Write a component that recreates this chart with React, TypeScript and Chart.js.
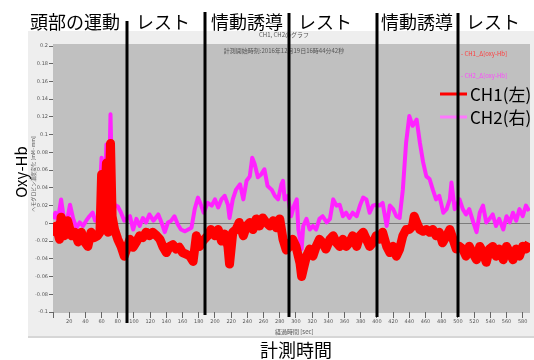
import React, { useEffect, useRef } from 'react';
import { Chart, registerables } from 'chart.js';
Chart.register(...registerables);

// ---- data (seconds / Δ[oxy-Hb]) ----
const ch1Times = [0, 4, 8, 10, 14, 18, 23, 27, 31, 35, 39, 43, 47, 51, 55, 58, 60, 62, 66, 68, 71, 73, 76, 80, 84, 88,
  95, 99, 103, 107, 111, 115, 119, 123, 128, 132, 136, 140, 144, 148, 152, 156, 160, 165, 169, 173, 177, 181, 185,
  191, 195, 200, 204, 208, 212, 216, 218, 222, 226, 230, 235, 239, 243, 247, 251, 255, 259, 263, 268, 272, 276, 280,
  284, 288, 292, 296, 300, 305, 307, 309, 313, 317, 321, 325, 329, 333, 337, 342, 346, 350, 354, 358, 362, 366, 370,
  375, 379, 383, 387, 391, 395, 399, 403, 407, 412, 416, 420, 424, 428, 432, 436, 440, 444, 446, 449, 453, 457, 461,
  465, 469, 473, 477, 481, 486, 490, 494, 498, 502, 506, 510, 514, 518, 523, 527, 531, 535, 539, 543, 547, 551, 556,
  560, 564, 568, 572, 576, 580, 584, 588];
const ch1Values = [-0.014, -0.003, -0.018, 0.007, -0.014, 0.003, -0.014, -0.010, -0.021, -0.010, -0.021, -0.026, -0.010,
  -0.016, -0.014, -0.010, 0.055, -0.007, 0.068, -0.010, 0.090, 0.008, -0.007, -0.018, -0.026, -0.037,
  -0.018, -0.027, -0.021, -0.014, -0.016, -0.010, -0.014, -0.010, -0.014, -0.018, -0.027, -0.033, -0.026, -0.024,
  -0.029, -0.027, -0.033, -0.035, -0.037, -0.043, -0.014, -0.026, -0.020,
  -0.014, -0.007, -0.014, -0.007, -0.020, -0.012, -0.026, -0.046, -0.010, -0.007, 0.001, -0.014, -0.003, 0.001,
  -0.007, 0.005, -0.003, 0.006, 0.001, -0.003, 0.003, -0.005, 0.005,
  -0.018, -0.030, -0.026, -0.018, -0.026, -0.045, -0.060, -0.052, -0.037, -0.029, -0.037, -0.026, -0.018, -0.022,
  -0.029, -0.018, -0.014, -0.022, -0.026, -0.018, -0.026, -0.022, -0.014,
  -0.026, -0.014, -0.010, -0.018, -0.026, -0.022, -0.014, -0.018, -0.010, -0.026, -0.033, -0.026, -0.037, -0.029,
  -0.014, -0.007, -0.007, -0.003, 0.008, 0.001, -0.007, -0.009, -0.007,
  -0.010, -0.007, -0.014, -0.010, -0.022, -0.014, -0.007, -0.018, -0.029, -0.026, -0.029, -0.037, -0.026, -0.033,
  -0.041, -0.026, -0.033, -0.044, -0.029, -0.026, -0.037, -0.029, -0.041,
  -0.026, -0.033, -0.041, -0.029, -0.037, -0.026, -0.029, -0.022];

const ch2Times = [0, 3, 6, 10, 13, 17, 21, 25, 29, 33, 37, 41, 45, 49, 52, 56, 60, 62, 66, 68, 71, 73, 76, 80, 84, 88,
  95, 99, 103, 107, 111, 115, 119, 124, 130, 134, 138, 142, 146, 150, 154, 158, 163, 167, 171, 175, 179, 183, 186,
  191, 196, 200, 204, 208, 212, 216, 218, 222, 226, 231, 235, 239, 243, 246, 249, 253, 257, 261, 265, 270, 274, 278,
  282, 284, 286, 290, 294, 298, 301, 303, 307, 309, 313, 317, 321, 325, 329, 333, 338, 342, 346, 350, 354, 358, 362,
  366, 370, 375, 379, 383, 387, 391, 395, 399, 403, 407, 412, 416, 420, 424, 428, 432, 436, 440, 444, 449, 453, 457,
  461, 465, 469, 473, 477, 482, 486, 490, 492, 494, 496, 502, 506, 510, 514, 519, 523, 527, 531, 535, 539, 543, 547,
  551, 556, 560, 564, 568, 572, 576, 580, 584, 588];
const ch2Values = [0.005, 0.012, 0.003, 0.027, 0.008, 0.001, 0.021, 0.005, -0.005, 0.001, -0.003, 0.003, 0.008, 0.012,
  0.003, 0.007, 0.074, 0.001, 0.089, -0.007, 0.123, 0.038, 0.021, 0.019, 0.012, 0.003,
  0.008, -0.007, 0.005, -0.003, 0.006, 0.001, 0.010, 0.003, 0.010, 0.001, -0.010, 0.001, 0.003, 0.008, -0.001,
  -0.007, -0.009, -0.007, -0.005, 0.016, 0.029, 0.020, 0.012,
  0.023, 0.020, 0.027, 0.018, 0.027, 0.031, 0.021, 0.006, 0.027, 0.038, 0.044, 0.027, 0.048, 0.053, 0.074, 0.067,
  0.052, 0.055, 0.061, 0.042, 0.038, 0.031, 0.027,
  0.044, 0.048, 0.027, 0.031, 0.008, 0.021, 0.027, -0.007, -0.029, -0.003, 0.005, -0.007, -0.003, -0.007, 0.005,
  0.008, 0.001, 0.005, 0.027, 0.020, 0.021, 0.008, 0.012,
  0.006, 0.012, 0.008, 0.020, 0.029, 0.027, 0.012, 0.020, 0.021, 0.020, 0.023, -0.003, 0.020, 0.016, 0.008, 0.006,
  0.038, 0.091, 0.121, 0.110, 0.117, 0.091, 0.069,
  0.053, 0.050, 0.038, 0.027, 0.031, 0.012, 0.016, 0.027, 0.046, 0.031, 0.016, 0.027, 0.016, 0.010, 0.016, 0.001,
  -0.010, 0.012, 0.020, 0.001, 0.005, 0.010, -0.003,
  0.005, -0.007, 0.008, 0.001, 0.012, 0.003, 0.016, 0.008, 0.020, 0.014];

const phaseBoundaries = [91, 188, 291, 400, 500];
const phaseLabels = ['頭部の運動', 'レスト', '情動誘導', 'レスト', '情動誘導', 'レスト'];
const seriesNames = ['CH1(左)', 'CH2(右)'];
const innerLegendNames = ['- CH1_Δ[oxy-Hb]', '- CH2_Δ[oxy-Hb]'];
const innerTitle = 'CH1, CH2のグラフ';
const innerSubtitle = '計測開始時刻:2016年12月19日16時44分42秒';
const innerYTitle = 'ヘモグロビン濃度変化 [mM·mm]';
const innerXTitle = '経過時間 [sec]';
const outerYTitle = 'Oxy-Hb';
const outerXTitle = '計測時間';
const yMin = -0.1;
const yMax = 0.2;
const yStep = 0.02;
const xMin = 0;
const xMax = 589;
const xStep = 20;

const JP = '"Noto Sans CJK JP", "Noto Sans", sans-serif';

const decorPlugin = {
  id: 'decor',
  beforeDraw(chart: any) {
    const ctx = chart.ctx;
    const { left, right, top, bottom } = chart.chartArea;
    ctx.save();
    ctx.fillStyle = '#ffffff';
    ctx.fillRect(0, 0, chart.width, chart.height);
    ctx.fillStyle = '#eeeeee';
    ctx.fillRect(28, 31, 506, 305);
    ctx.fillStyle = '#d6d6d6';
    ctx.fillRect(28, 336, 506, 2);
    ctx.fillStyle = '#c0c0c0';
    ctx.fillRect(left, top - 2, right - left, bottom - top + 3);
    ctx.restore();
  },
  beforeDatasetsDraw(chart: any) {
    const ctx = chart.ctx;
    const { left, right } = chart.chartArea;
    const y0 = Math.round(chart.scales.y.getPixelForValue(0)) + 0.5;
    ctx.save();
    ctx.strokeStyle = '#7c7c7c';
    ctx.lineWidth = 1;
    ctx.beginPath();
    ctx.moveTo(left, y0);
    ctx.lineTo(right, y0);
    ctx.stroke();
    ctx.restore();
  },
  afterDraw(chart: any) {
    const ctx = chart.ctx;
    const xs = chart.scales.x;
    ctx.save();

    // small inner titles
    ctx.fillStyle = '#555555';
    ctx.font = `6px ${JP}`;
    ctx.textAlign = 'center';
    ctx.textBaseline = 'middle';
    ctx.fillText(innerTitle, 284, 35);
    ctx.fillText(innerSubtitle, 284, 51);
    ctx.textAlign = 'left';
    ctx.fillText(innerXTitle, 275, 332);
    ctx.save();
    ctx.translate(33, 174);
    ctx.rotate(-Math.PI / 2);
    ctx.textAlign = 'center';
    ctx.font = `5px ${JP}`;
    ctx.fillText(innerYTitle, 0, 0);
    ctx.restore();

    // small inner legend
    ctx.textAlign = 'left';
    ctx.font = `6px ${JP}`;
    ctx.fillStyle = '#ff3a3a';
    ctx.fillText(innerLegendNames[0], 461, 54);
    ctx.fillStyle = '#ff44ff';
    ctx.fillText(innerLegendNames[1], 461, 76);

    // big legend
    const legendColors = ['#ff0000', '#ff77ff'];
    const legendY = [94, 117];
    for (let i = 0; i < 2; i++) {
      ctx.strokeStyle = legendColors[i];
      ctx.lineWidth = 3;
      ctx.beginPath();
      ctx.moveTo(440, legendY[i]);
      ctx.lineTo(467, legendY[i]);
      ctx.stroke();
      ctx.fillStyle = '#000000';
      ctx.font = `17px ${JP}`;
      ctx.textBaseline = 'middle';
      ctx.fillText(seriesNames[i], 470, legendY[i] + 1);
    }

    // phase boundaries
    const tops = [21, 12, 13, 13, 13];
    const bottoms = [323, 315, 317, 317, 317];
    ctx.strokeStyle = '#000000';
    ctx.lineWidth = 3;
    phaseBoundaries.forEach((t, i) => {
      const px = Math.round(xs.getPixelForValue(t));
      ctx.beginPath();
      ctx.moveTo(px, tops[i]);
      ctx.lineTo(px, bottoms[i]);
      ctx.stroke();
    });

    // phase labels
    const centers = [75, 163, 247, 325, 417, 493];
    ctx.fillStyle = '#000000';
    ctx.font = `18px ${JP}`;
    ctx.textAlign = 'center';
    ctx.textBaseline = 'middle';
    phaseLabels.forEach((s, i) => ctx.fillText(s, centers[i], 22));

    // outer axis titles
    ctx.fillText(outerXTitle, 296, 350);
    ctx.save();
    ctx.translate(21, 172);
    ctx.rotate(-Math.PI / 2);
    ctx.font = `15px ${JP}`;
    ctx.fillText(outerYTitle, 0, 0);
    ctx.restore();

    ctx.restore();
  },
};

export default function App() {
  const ref = useRef<HTMLCanvasElement | null>(null);
  useEffect(() => {
    if (!ref.current) return;
    const chart = new Chart(ref.current, {
      type: 'line',
      data: {
        datasets: [
          {
            label: seriesNames[0],
            data: ch1Times.map((t, i) => ({ x: t, y: ch1Values[i] })),
            borderColor: '#ff0000',
            borderWidth: 9,
            pointRadius: 0,
            tension: 0,
            order: 0,
          },
          {
            label: seriesNames[1],
            data: ch2Times.map((t, i) => ({ x: t, y: ch2Values[i] })),
            borderColor: '#ff22ff',
            borderWidth: 4,
            pointRadius: 0,
            tension: 0,
            order: 1,
          },
        ],
      },
      options: {
        animation: false,
        responsive: false,
        devicePixelRatio: 1,
        layout: { padding: { top: 46, right: 4, left: 0, bottom: 0 } },
        plugins: { legend: { display: false }, tooltip: { enabled: false } },
        elements: { line: { borderJoinStyle: 'round' } },
        scales: {
          x: {
            type: 'linear',
            min: xMin,
            max: xMax,
            ticks: {
              stepSize: xStep,
              autoSkip: false,
              maxRotation: 0,
              includeBounds: false,
              padding: 1,
              color: '#555555',
              font: { size: 5, family: 'DejaVu Sans' },
              callback: (v: any) => (Number(v) === 0 ? '' : String(v)),
            },
            grid: { drawOnChartArea: false, drawTicks: true, tickLength: 6, color: '#666666' },
            border: { display: false },
            afterFit: (s: any) => {
              s.height = 48;
              s.paddingLeft = 0;
              s.paddingRight = 0;
            },
          },
          y: {
            type: 'linear',
            min: yMin,
            max: yMax,
            ticks: {
              stepSize: yStep,
              autoSkip: false,
              padding: 1,
              color: '#555555',
              font: { size: 5, family: 'DejaVu Sans' },
              callback: (v: any) => String(Math.round(Number(v) * 100) / 100),
            },
            grid: { drawOnChartArea: false, drawTicks: true, tickLength: 4, color: '#666666' },
            border: { display: false },
            afterFit: (s: any) => {
              s.width = 53;
              s.paddingTop = 0;
              s.paddingBottom = 0;
            },
          },
        },
      },
      plugins: [decorPlugin],
    });
    return () => chart.destroy();
  }, []);
  return (
    <div style={{ position: 'absolute', left: 0, top: 0, width: 534, height: 360 }}>
      <canvas ref={ref} width={534} height={360} style={{ width: 534, height: 360, display: 'block' }} />
    </div>
  );
}
